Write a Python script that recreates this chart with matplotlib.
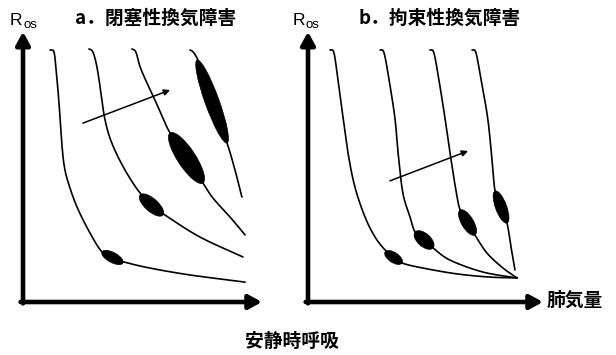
import numpy as np
import matplotlib.pyplot as plt
from matplotlib.patches import Ellipse

plt.rcParams['font.family'] = ['Noto Sans CJK JP', 'DejaVu Sans']

# pressure-volume isopleths, obstructive pattern (lung volume, R_os)
obs_1 = [(10.2, 95.1), (11.7, 94.3), (12.5, 87.5), (13.2, 80.0), (14.0, 69.4), (14.7, 59.2),
         (15.5, 51.7), (17.0, 45.3), (20.4, 35.8), (25.3, 26.0), (29.8, 18.9), (34.0, 16.6),
         (38.1, 15.1), (47.9, 12.8), (63.0, 10.2), (83.8, 7.5)]
obs_2 = [(24.9, 95.5), (26.4, 94.3), (27.9, 88.7), (29.4, 79.0), (30.7, 70.0), (32.6, 62.5),
         (35.5, 55.5), (39.6, 47.9), (44.2, 41.1), (48.7, 36.6), (53.6, 32.8), (66.8, 24.5),
         (83.0, 17.0)]
obs_3 = [(41.1, 95.5), (42.6, 94.3), (44.2, 88.7), (46.8, 82.6), (49.8, 76.2), (52.8, 69.4),
         (55.5, 63.8), (61.9, 54.3), (67.9, 44.9), (71.7, 39.2), (78.1, 32.1), (83.8, 25.3)]
obs_4 = [(63.0, 95.1), (64.5, 94.0), (66.8, 89.4), (71.3, 76.2), (77.0, 60.0), (80.0, 49.8),
         (82.6, 39.6)]
# tidal breathing loops: start, end, width
obs_loops = [((29.8, 18.9), (37.7, 14.7), 3.8),
             ((44.2, 40.4), (52.8, 32.8), 4.9),
             ((55.5, 63.8), (67.9, 44.9), 6.8),
             ((65.7, 91.3), (77.0, 60.0), 5.3)]
obs_arrow = ((22.6, 67.5), (55.5, 80.0))

# restrictive pattern
res_1 = [(8.3, 95.1), (9.8, 94.0), (11.3, 83.8), (13.2, 69.8), (15.1, 56.2), (17.7, 43.4),
         (21.5, 32.1), (25.3, 24.5), (29.1, 19.6), (32.1, 17.0), (35.5, 14.7), (43.4, 12.8),
         (56.2, 10.6), (68.7, 9.4), (78.9, 9.1)]
res_2 = [(27.2, 95.1), (28.7, 94.0), (30.6, 83.8), (32.8, 69.4), (34.0, 56.2), (35.8, 41.1),
         (38.5, 32.1), (40.4, 26.4), (43.8, 23.4), (47.2, 20.4), (53.6, 15.8), (66.0, 11.3),
         (78.9, 9.1)]
res_3 = [(46.0, 95.1), (47.5, 94.0), (49.4, 83.8), (51.7, 69.4), (53.6, 56.2), (55.8, 42.3),
         (57.4, 34.7), (60.0, 30.2), (63.0, 25.3), (67.5, 18.5), (73.6, 12.8), (78.9, 9.1)]
res_4 = [(61.9, 95.1), (63.4, 94.0), (65.3, 83.8), (67.9, 68.7), (69.8, 49.8), (70.6, 41.9),
         (72.8, 35.8), (75.1, 29.8), (76.6, 20.8), (78.1, 12.1)]
res_loops = [((29.1, 18.9), (35.5, 14.7), 3.8),
             ((40.4, 26.4), (47.2, 20.4), 4.9),
             ((57.4, 34.7), (63.0, 25.3), 4.5),
             ((70.6, 41.9), (75.1, 29.8), 4.2)]
res_arrow = ((30.9, 45.7), (60.4, 57.0))


def smooth(pts, n=24):
    # Catmull-Rom spline through the given points
    p = np.asarray(pts, float)
    p = np.vstack([p[0], p, p[-1]])
    t = np.linspace(0, 1, n, endpoint=False)[:, None]
    out = []
    for i in range(1, len(p) - 2):
        p0, p1, p2, p3 = p[i - 1], p[i], p[i + 1], p[i + 2]
        seg = 0.5 * (2 * p1 + (-p0 + p2) * t + (2 * p0 - 5 * p1 + 4 * p2 - p3) * t ** 2
                     + (-p0 + 3 * p1 - 3 * p2 + p3) * t ** 3)
        out.append(seg)
    out.append(p[-2][None])
    return np.vstack(out)


def panel(ax, curves, loops, arrow, xmax):
    ax.set_xlim(0, xmax)
    ax.set_ylim(0, 100)
    ax.axis('off')
    for c in curves:
        xy = smooth(c)
        ax.plot(xy[:, 0], xy[:, 1], color='black', lw=1.2, solid_capstyle='round')
    for (x0, y0), (x1, y1), w in loops:
        length = np.hypot(x1 - x0, y1 - y0)
        ang = np.degrees(np.arctan2(y1 - y0, x1 - x0))
        ax.add_patch(Ellipse(((x0 + x1) / 2, (y0 + y1) / 2), length, w, angle=ang,
                             facecolor='black', edgecolor='black', lw=0.5))
    ax.annotate('', xy=arrow[1], xytext=arrow[0],
                arrowprops=dict(arrowstyle='-|>', color='black', lw=1.1,
                                mutation_scale=9, shrinkA=0, shrinkB=0))
    # axes drawn as thick arrows
    ax.annotate('', xy=(0, 1.02), xytext=(0, -0.005), xycoords='axes fraction',
                arrowprops=dict(arrowstyle='-|>,head_length=0.55,head_width=0.3',
                                color='black', lw=3.3, mutation_scale=14,
                                shrinkA=0, shrinkB=0), annotation_clip=False)
    ax.annotate('', xy=(1.0, 0), xytext=(-0.01, 0), xycoords='axes fraction',
                arrowprops=dict(arrowstyle='-|>,head_length=0.55,head_width=0.3',
                                color='black', lw=3.3, mutation_scale=14,
                                shrinkA=0, shrinkB=0), annotation_clip=False)


W, H = 616, 355
fig = plt.figure(figsize=(W / 100, H / 100), dpi=100)
ax_a = fig.add_axes([23 / W, 53 / H, 239 / W, 265 / H])
ax_b = fig.add_axes([308 / W, 53 / H, 235 / W, 265 / H])

panel(ax_a, [obs_1, obs_2, obs_3, obs_4], obs_loops, obs_arrow, 239 / 2.65)
panel(ax_b, [res_1, res_2, res_3, res_4], res_loops, res_arrow, 235 / 2.65)

for x0 in (10, 293):
    fig.text(x0 / W, 1 - 25 / H, 'R', fontsize=12.5, family='Liberation Sans', va='baseline')
    fig.text((x0 + 13) / W, 1 - 27.5 / H, 'os', fontsize=9.5, family='Liberation Sans',
             va='baseline')

fig.text(75 / W, 1 - 18 / H, 'a．閉塞性換気障害', fontsize=13.5, va='center', weight='bold')
fig.text(358 / W, 1 - 18 / H, 'b．拘束性換気障害', fontsize=13.5, va='center', weight='bold')
fig.text(547 / W, 1 - 300 / H, '肺気量', fontsize=13.5, va='center', weight='bold')
fig.text(292 / W, 1 - 341 / H, '安静時呼吸', fontsize=13.5, va='center', ha='center',
         weight='bold')

fig.savefig('out.png', dpi=100)
